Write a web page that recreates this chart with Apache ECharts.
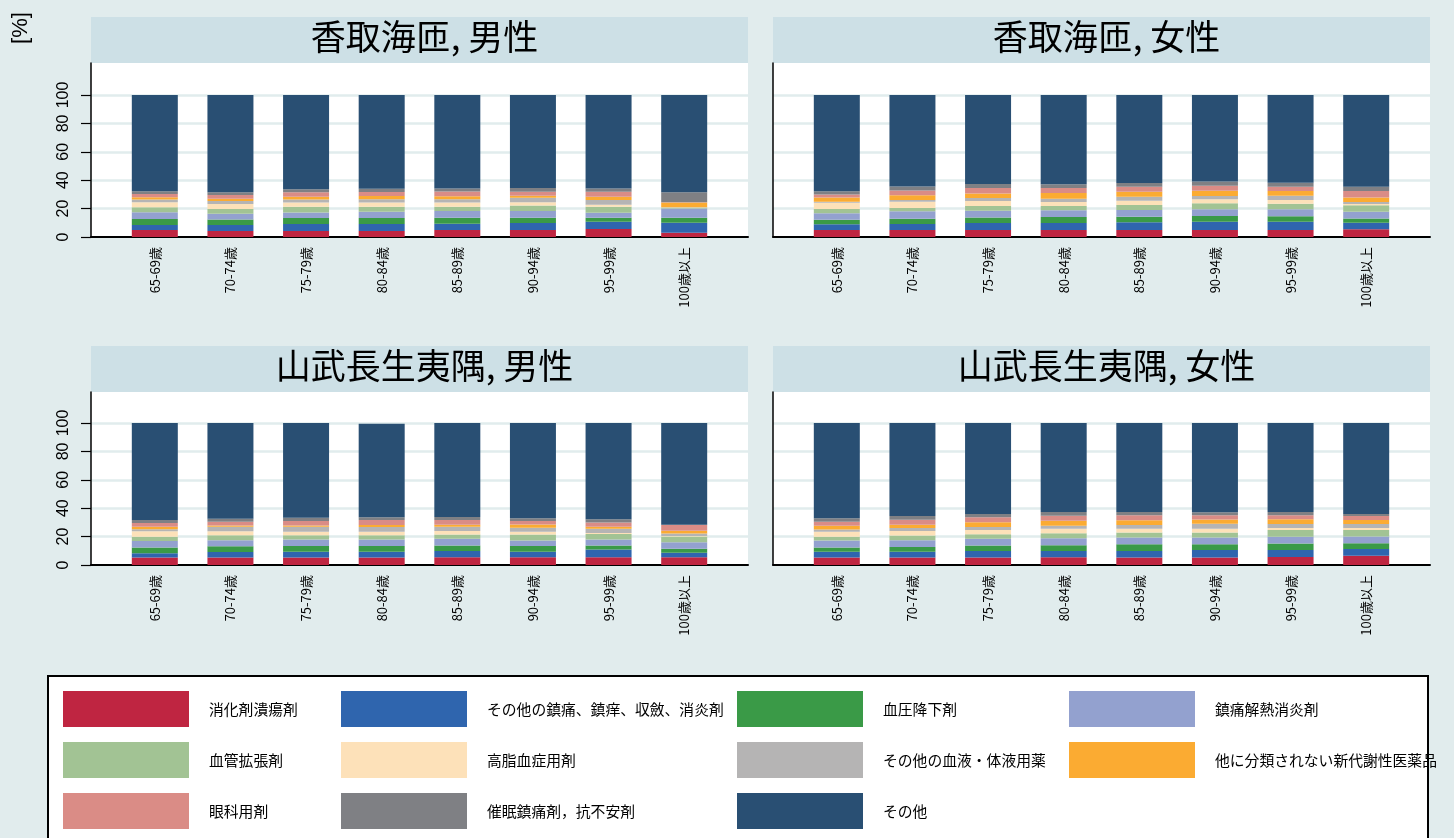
<!DOCTYPE html>
<html>
<head>
<meta charset="utf-8">
<script src="https://cdn.jsdelivr.net/npm/echarts@6/dist/echarts.min.js"></script>
<style>
html,body{margin:0;padding:0;background:#e1eced;}
#chart{width:1454px;height:838px;}
</style>
</head>
<body>
<div id="chart"></div>
<script>
const categories = ['65-69歳','70-74歳','75-79歳','80-84歳','85-89歳','90-94歳','95-99歳','100歳以上'];
const seriesNames = ['消化剤潰瘍剤','その他の鎮痛、鎮痒、収斂、消炎剤','血圧降下剤','鎮痛解熱消炎剤','血管拡張剤','高脂血症用剤','その他の血液・体液用薬','他に分類されない新代謝性医薬品','眼科用剤','催眠鎮痛剤，抗不安剤','その他'];
const seriesColors = ['#bf2541','#2f65ae','#3a9a47','#93a1cf','#a2c394','#fde1b9','#b5b4b4','#fbab32','#da8c86','#7f8084','#294f73'];
const panelTitles = ['香取海匝, 男性','香取海匝, 女性','山武長生夷隅, 男性','山武長生夷隅, 女性'];

// 香取海匝, 男性 (rows follow seriesNames order)
const katoriMale = [
  [5.0,4.2,4.2,4.2,4.9,4.9,5.6,3.0],
  [3.5,4.2,4.9,4.9,4.5,4.9,5.2,7.0],
  [4.2,4.0,4.2,4.2,4.2,3.8,2.8,3.5],
  [4.7,4.0,4.0,4.5,4.7,4.7,3.5,6.6],
  [3.5,3.3,4.0,3.5,3.0,3.8,4.2,0.5],
  [3.5,3.5,3.0,3.0,3.0,2.3,1.4,0.2],
  [2.0,2.1,2.1,2.3,2.3,3.3,3.3,0.2],
  [1.6,1.6,1.9,2.3,2.1,1.4,2.3,3.3],
  [2.3,2.6,3.3,2.8,3.3,2.8,3.5,0.2],
  [1.9,2.1,2.1,2.3,2.1,2.6,2.3,7.0],
  [67.8,68.4,66.3,66.0,65.9,65.5,65.9,68.5]
];
// 香取海匝, 女性
const katoriFemale = [
  [4.9,4.9,4.9,4.9,4.9,4.9,4.9,5.4],
  [4.0,4.2,4.9,4.9,5.4,5.9,5.9,4.7],
  [3.3,3.8,4.0,4.2,4.0,4.0,3.8,3.0],
  [4.5,5.2,4.7,4.9,4.7,4.7,4.9,4.7],
  [3.0,2.3,3.3,3.0,3.5,4.2,4.0,4.5],
  [4.5,4.5,3.5,2.8,3.0,2.8,2.6,0.9],
  [0.7,1.2,2.1,2.3,2.8,2.3,3.0,1.4],
  [3.0,3.3,3.3,4.0,3.5,3.8,3.3,3.3],
  [2.1,3.3,3.8,3.5,3.5,3.5,3.0,4.5],
  [2.3,2.8,2.8,2.6,2.8,3.0,2.8,3.0],
  [67.7,64.5,62.7,62.9,61.9,60.9,61.8,64.6]
];
// 山武長生夷隅, 男性
const sanbuMale = [
  [5.2,5.2,5.2,5.2,5.4,5.4,5.4,5.4],
  [3.0,4.0,4.2,4.2,4.5,4.0,5.6,3.3],
  [4.2,4.0,4.0,4.0,3.8,4.0,2.8,2.8],
  [4.5,4.2,4.5,4.5,4.7,3.8,4.2,4.5],
  [3.0,3.5,3.0,3.0,3.0,4.2,3.8,4.0],
  [3.8,2.8,2.6,2.6,2.6,2.1,0.7,0.5],
  [1.4,3.3,3.5,3.3,3.0,2.8,3.0,1.6],
  [1.9,0.9,0.9,1.4,1.4,2.3,1.4,2.1],
  [2.6,2.6,3.0,3.5,3.3,2.3,3.0,4.0],
  [2.1,2.1,2.3,1.9,2.1,2.1,2.3,0.2],
  [68.3,67.4,66.8,65.8,66.2,67.0,67.8,71.6]
];
// 山武長生夷隅, 女性
const sanbuFemale = [
  [5.2,5.2,5.2,5.4,5.2,5.2,5.6,6.6],
  [4.2,4.2,4.7,4.5,4.7,5.4,4.9,4.7],
  [3.0,3.3,3.8,4.0,4.7,4.0,4.7,4.0],
  [4.9,4.7,4.7,4.9,4.7,4.7,4.7,4.7],
  [2.6,3.3,3.3,3.5,3.5,3.5,4.7,4.7],
  [3.5,3.3,3.0,3.3,2.8,2.8,1.4,1.4],
  [1.6,2.1,2.1,2.1,2.6,3.5,2.8,2.8],
  [2.6,2.3,3.3,3.5,3.3,3.0,3.5,2.8],
  [2.8,3.5,3.5,3.5,3.5,3.0,2.8,2.8],
  [2.6,2.6,2.3,2.6,2.3,2.1,2.3,1.4],
  [67.0,65.5,64.1,62.7,62.7,62.8,62.6,64.1]
];
const panelData = [katoriMale, katoriFemale, sanbuMale, sanbuFemale];

const FONT = '"Liberation Sans", "Noto Sans CJK JP", sans-serif';
const JP = '"Noto Sans CJK JP", "Liberation Sans", sans-serif';

// panel geometry
const panels = [
  {x:91,  head:17,  plotTop:63,  y100:95,  y0:237},
  {x:773, head:17,  plotTop:63,  y100:95,  y0:237},
  {x:91,  head:346, plotTop:392, y100:423, y0:565},
  {x:773, head:346, plotTop:392, y100:423, y0:565}
];
const panelW = 657, barInset = 26, barGridW = 605;

const grids = [], xAxes = [], yAxes = [], series = [], titles = [], graphics = [];

panels.forEach((p, i) => {
  const fg = 3*i, sg = 3*i+1, bg = 3*i+2;
  // frame grid: white plot area and axis lines
  grids.push({left:p.x, top:p.plotTop, width:panelW, height:p.y0 - p.plotTop, show:true, backgroundColor:'#ffffff', borderWidth:0});
  // scale grid: full width, 0..100, gridlines + tick labels
  grids.push({left:p.x, top:p.y100, width:panelW, height:p.y0 - p.y100});
  // bar grid
  grids.push({left:p.x + barInset, top:p.y100, width:barGridW, height:p.y0 - p.y100});

  xAxes.push({gridIndex:fg, type:'value', min:0, max:1, axisLine:{show:true, onZero:false, lineStyle:{color:'#000', width:2}}, axisTick:{show:false}, axisLabel:{show:false}, splitLine:{show:false}});
  yAxes.push({gridIndex:fg, type:'value', min:0, max:1, axisLine:{show:true, onZero:false, lineStyle:{color:'#000', width:1.5}}, axisTick:{show:false}, axisLabel:{show:false}, splitLine:{show:false}});

  xAxes.push({gridIndex:sg, type:'value', min:0, max:1, show:false});
  yAxes.push({gridIndex:sg, type:'value', min:0, max:100, interval:20,
    axisLine:{show:false},
    axisTick:{show: i % 2 === 0, length:10, lineStyle:{color:'#000', width:1.2}},
    axisLabel:{show: i % 2 === 0, rotate:90, fontSize:16, color:'#000', fontFamily:FONT, margin:19},
    splitLine:{show:true, lineStyle:{color:'#e1eced', width:2.5}}});

  xAxes.push({gridIndex:bg, type:'category', data:categories, boundaryGap:true,
    axisLine:{show:false}, axisTick:{show:false},
    axisLabel:{rotate:90, fontSize:13, color:'#000', fontFamily:JP, margin:10, interval:0}});
  yAxes.push({gridIndex:bg, type:'value', min:0, max:100, show:false});

  panelData[i].forEach((vals, k) => {
    series.push({name:seriesNames[k], type:'bar', stack:'p'+i, xAxisIndex:bg, yAxisIndex:bg,
      data:vals, barWidth:46, itemStyle:{color:seriesColors[k]}, emphasis:{disabled:true}, z:3});
  });
  graphics.push({type:'rect', shape:{x:p.x, y:p.head, width:panelW, height:p.plotTop - p.head}, style:{fill:'#cde0e6'}, silent:true, z:-1});
  titles.push({text:panelTitles[i], left:p.x + panelW/2, textAlign:'center', top:p.head - 3,
    textStyle:{fontSize:35, fontWeight:'normal', color:'#000', fontFamily:JP}});
});

// legend box
graphics.push({type:'rect', shape:{x:48, y:676, width:1380, height:170}, style:{fill:'#ffffff', stroke:'#000', lineWidth:2}, silent:true, z:-1});
// [%] label
graphics.push({type:'text', x:21, y:28, rotation:Math.PI/2, style:{text:'[%]', fill:'#000', font:'22px "Liberation Sans", sans-serif', textAlign:'center', textVerticalAlign:'middle'}, silent:true});

const legendCols = [
  {left:63,   names:[seriesNames[0], seriesNames[4], seriesNames[8]]},
  {left:341,  names:[seriesNames[1], seriesNames[5], seriesNames[9]]},
  {left:737,  names:[seriesNames[2], seriesNames[6], seriesNames[10]]},
  {left:1069, names:[seriesNames[3], seriesNames[7]]}
];
const legends = legendCols.map(c => ({
  left:c.left, top:691, orient:'vertical', padding:0, itemWidth:126, itemHeight:36, itemGap:15,
  icon:'rect', selectedMode:false, data:c.names,
  textStyle:{fontSize:14.8, color:'#000', fontFamily:JP, padding:[0,0,0,15]}
}));

const chart = echarts.init(document.getElementById('chart'), null, {renderer:'canvas'});
chart.setOption({
  backgroundColor:'#e1eced',
  animation:false,
  title:titles,
  grid:grids,
  xAxis:xAxes,
  yAxis:yAxes,
  legend:legends,
  graphic:graphics,
  series:series
});
</script>
</body>
</html>
